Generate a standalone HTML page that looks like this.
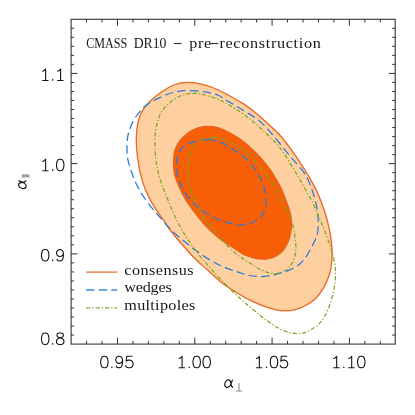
<!DOCTYPE html>
<html><head><meta charset="utf-8"><title>plot</title>
<style>
html,body{margin:0;padding:0;background:#fff;}
body{width:415px;height:415px;overflow:hidden;position:relative;}
svg{position:absolute;left:0;top:0;display:block;}
text{font-family:"Liberation Sans",sans-serif;}
.num{font-family:"Liberation Sans",sans-serif;font-size:16px;fill:#3a3a3a;letter-spacing:0.9px;}
.ser{font-family:"Liberation Serif",serif;font-size:13.6px;fill:#161616;}
</style></head><body>
<svg width="415" height="415" viewBox="0 0 415 415">
<rect x="0" y="0" width="415" height="415" fill="#ffffff"/>
<path d="M187.7,82.4C191.9,82.3 196.0,83.1 200.2,83.9C204.4,84.8 207.9,85.6 212.7,87.5C217.5,89.4 223.7,92.7 229.0,95.5C234.3,98.3 240.2,101.7 244.3,104.4C248.5,107.1 250.7,109.0 253.9,111.5C257.1,114.0 259.4,115.9 263.6,119.7C267.8,123.5 274.4,129.2 279.3,134.5C284.2,139.8 288.6,146.0 292.8,151.8C297.0,157.6 301.4,164.5 304.6,169.5C307.8,174.5 309.5,177.3 311.8,181.6C314.1,185.8 316.4,190.2 318.5,195.0C320.6,199.8 322.6,205.3 324.3,210.5C326.0,215.7 327.5,221.1 328.6,225.9C329.7,230.7 330.5,234.6 331.1,239.4C331.7,244.2 332.2,250.3 332.2,255.0C332.2,259.7 331.6,263.8 331.0,267.6C330.4,271.4 329.6,274.1 328.3,277.6C327.0,281.2 325.2,285.3 323.0,288.9C320.8,292.4 318.2,296.1 315.2,298.9C312.2,301.7 308.5,303.9 305.1,305.7C301.8,307.5 298.4,308.8 295.1,309.7C291.8,310.6 288.4,310.9 285.1,310.9C281.8,310.9 278.9,310.6 275.1,309.7C271.3,308.8 266.7,307.3 262.5,305.7C258.3,304.1 255.0,302.8 250.0,300.2C245.0,297.6 237.7,293.3 232.7,290.2C227.7,287.1 224.4,284.8 220.2,281.4C216.0,278.0 211.8,273.9 207.6,270.1C203.4,266.3 199.3,263.0 195.1,258.8C190.9,254.6 186.8,249.8 182.6,245.0C178.4,240.2 173.1,233.9 170.0,230.0C166.9,226.1 167.0,225.3 164.3,221.3C161.6,217.3 156.9,211.4 153.7,205.9C150.5,200.4 147.4,194.6 145.0,188.5C142.6,182.4 140.9,175.7 139.5,169.3C138.1,162.9 137.3,155.5 136.8,150.2C136.3,144.9 136.2,141.9 136.3,137.7C136.4,133.5 136.7,129.3 137.5,125.1C138.3,120.9 139.2,116.6 141.3,112.6C143.4,108.6 146.6,104.8 150.1,101.3C153.6,97.8 158.4,94.1 162.6,91.3C166.8,88.5 170.9,86.0 175.1,84.5C179.3,83.0 183.5,82.5 187.7,82.4Z" fill="#fed0a0" stroke="#ea6622" stroke-width="1.3"/>
<path d="M205.2,126.4C209.4,126.0 213.6,126.5 217.7,127.6C221.8,128.7 225.8,131.0 229.5,132.8C233.2,134.7 236.3,136.4 239.6,138.7C242.9,141.0 246.1,143.5 249.3,146.4C252.5,149.3 255.5,152.3 258.9,156.0C262.3,159.7 266.6,164.8 269.5,168.7C272.4,172.6 274.2,175.9 276.2,179.3C278.2,182.7 279.9,185.5 281.5,188.9C283.1,192.3 284.4,196.4 285.8,200.0C287.2,203.6 288.6,206.9 289.6,210.5C290.6,214.1 291.5,217.8 291.7,221.6C291.9,225.4 291.3,229.6 290.7,233.1C290.1,236.6 289.1,239.9 287.8,242.8C286.5,245.7 284.9,248.3 283.0,250.5C281.1,252.7 278.6,254.6 276.2,255.9C273.8,257.2 271.1,258.1 268.5,258.6C265.9,259.1 263.4,259.2 260.8,259.1C258.2,259.0 255.7,258.4 253.1,257.8C250.5,257.2 248.0,256.5 245.4,255.3C242.8,254.1 240.3,252.4 237.7,250.8C235.1,249.2 232.6,247.3 230.0,245.6C227.4,243.9 224.7,242.4 222.0,240.5C219.3,238.6 217.0,236.8 214.0,234.1C211.0,231.4 207.3,227.8 204.0,224.1C200.7,220.3 197.1,215.8 194.0,211.6C190.9,207.4 187.7,203.2 185.2,199.0C182.7,194.8 180.7,190.7 178.9,186.5C177.1,182.3 175.4,178.1 174.5,174.0C173.6,169.9 173.4,166.0 173.5,162.0C173.6,158.0 173.7,153.9 175.0,150.0C176.3,146.1 178.4,142.1 181.3,138.8C184.2,135.5 188.6,132.1 192.6,130.0C196.6,127.9 201.0,126.8 205.2,126.4Z" fill="#f65f06" stroke="#e8621f" stroke-width="1.2"/>
<path d="M190.2,90.5C195.2,90.5 200.6,91.2 205.2,92.0C209.8,92.8 213.7,93.4 217.7,95.0C221.7,96.6 224.6,99.2 229.0,101.8C233.4,104.4 238.9,107.6 244.0,110.8C249.1,114.0 254.7,116.8 259.7,121.1C264.7,125.4 269.1,130.7 274.0,136.4C278.9,142.1 284.5,149.6 289.2,155.2C293.9,160.8 298.9,165.6 302.2,170.0C305.5,174.4 307.0,177.4 308.9,181.6C310.8,185.8 312.3,190.5 313.7,195.0C315.1,199.5 316.2,204.0 317.0,208.5C317.8,213.0 318.2,217.5 318.2,222.0C318.2,226.5 318.2,231.2 317.0,235.5C315.8,239.8 313.0,244.2 311.0,248.0C309.0,251.8 307.4,255.2 305.1,258.2C302.8,261.2 300.3,263.8 297.4,265.9C294.5,268.0 291.0,269.4 287.8,270.7C284.6,272.0 281.4,272.7 278.2,273.6C275.0,274.5 271.7,275.4 268.5,275.9C265.3,276.4 262.1,276.6 258.9,276.5C255.7,276.4 252.5,276.1 249.3,275.5C246.1,274.9 243.6,273.9 239.6,272.6C235.6,271.3 230.1,269.7 225.2,267.6C220.3,265.5 215.1,263.0 210.1,260.1C205.1,257.2 199.7,253.3 195.1,250.0C190.5,246.7 186.6,243.3 182.6,240.0C178.6,236.7 174.6,233.3 171.3,230.0C168.0,226.7 165.5,223.7 162.6,220.4C159.7,217.1 156.8,213.9 153.9,210.3C151.0,206.7 147.8,203.0 145.1,199.0C142.4,195.0 139.8,190.7 137.6,186.5C135.4,182.3 133.8,178.4 132.2,174.0C130.6,169.6 128.9,164.6 128.0,160.2C127.1,155.8 127.0,151.9 127.0,147.7C127.0,143.5 127.1,139.4 128.0,135.2C128.9,131.0 130.5,126.6 132.5,122.6C134.5,118.6 137.1,114.6 140.0,111.3C142.9,108.0 146.3,105.1 150.1,102.6C153.9,100.1 158.4,98.1 162.6,96.3C166.8,94.5 170.5,93.0 175.1,92.0C179.7,91.0 185.2,90.5 190.2,90.5Z" fill="none" stroke="#2878e0" stroke-width="1.25" stroke-dasharray="8.4 4.2"/>
<path d="M208.0,139.5C212.2,139.6 216.3,140.7 220.0,142.0C223.7,143.3 226.4,145.3 230.2,147.6C234.0,149.9 238.7,152.7 242.7,156.0C246.7,159.3 250.9,163.6 254.0,167.6C257.1,171.6 259.6,176.0 261.5,180.2C263.4,184.4 264.6,188.6 265.3,192.7C266.1,196.8 266.1,202.1 266.0,205.0C265.9,207.9 265.4,208.2 264.7,210.0C264.0,211.8 263.4,213.9 261.8,215.8C260.2,217.7 257.4,219.8 255.0,221.2C252.6,222.5 249.9,223.3 247.3,223.9C244.7,224.5 242.5,225.1 239.6,225.0C236.7,224.9 233.2,224.0 230.0,223.2C226.8,222.4 223.8,221.8 220.1,220.3C216.4,218.8 211.3,216.3 207.6,214.0C203.8,211.7 200.9,209.4 197.6,206.5C194.3,203.6 190.3,200.0 187.6,196.4C184.9,192.8 183.1,189.2 181.3,185.2C179.5,181.2 177.8,176.3 177.0,172.6C176.2,168.8 176.2,166.0 176.5,162.7C176.8,159.4 177.4,155.4 178.8,152.6C180.2,149.8 182.4,147.5 185.1,145.6C187.8,143.7 191.3,142.3 195.1,141.3C198.9,140.3 203.8,139.4 208.0,139.5Z" fill="none" stroke="#2878e0" stroke-width="1.25" stroke-dasharray="8.4 4.2"/>
<path d="M192.7,93.3C196.9,93.1 201.0,94.0 205.2,95.0C209.4,96.0 213.7,97.6 217.7,99.2C221.7,100.8 224.6,102.2 229.0,104.8C233.4,107.3 238.8,110.7 244.0,114.5C249.2,118.3 254.1,122.3 260.0,127.7C265.9,133.1 273.8,140.2 279.3,147.0C284.8,153.8 289.0,161.8 293.0,168.2C297.0,174.6 300.0,180.0 303.1,185.4C306.2,190.8 309.2,195.7 311.8,200.8C314.4,205.9 316.4,211.4 318.5,216.2C320.6,221.0 322.5,225.2 324.3,229.7C326.1,234.2 327.7,239.0 329.1,243.2C330.6,247.4 332.0,250.9 333.0,255.0C334.0,259.1 334.8,263.4 335.2,267.6C335.6,271.8 335.6,275.5 335.2,280.1C334.8,284.7 333.9,290.1 332.7,295.1C331.4,300.1 329.8,305.6 327.7,310.2C325.6,314.8 323.1,319.4 320.2,322.7C317.3,326.0 313.5,328.4 310.2,330.2C306.9,332.0 303.5,333.1 300.1,333.5C296.8,333.9 293.4,333.4 290.1,332.7C286.8,331.9 283.5,330.7 280.1,329.0C276.8,327.3 273.4,325.0 270.0,322.7C266.6,320.4 264.1,318.5 260.0,315.2C255.9,311.9 249.8,306.9 245.2,303.0C240.6,299.1 236.9,295.5 232.7,291.5C228.5,287.5 224.0,282.9 220.2,279.0C216.4,275.1 213.4,271.6 210.1,267.8C206.8,264.0 203.4,260.5 200.1,256.3C196.8,252.1 193.0,246.9 190.0,242.5C187.0,238.1 184.7,234.7 182.0,230.0C179.3,225.3 176.3,219.3 173.9,214.1C171.5,208.9 169.5,203.6 167.6,199.0C165.7,194.4 164.0,190.5 162.6,186.5C161.2,182.5 159.9,179.0 158.9,175.0C157.9,171.0 156.9,166.8 156.3,162.7C155.7,158.6 155.3,154.8 155.1,150.2C154.9,145.6 154.7,140.0 155.1,135.2C155.5,130.4 156.3,125.6 157.6,121.4C158.8,117.2 160.4,113.3 162.6,110.1C164.8,106.9 167.6,104.6 170.5,102.3C173.4,100.0 176.4,97.5 180.1,96.0C183.8,94.5 188.5,93.5 192.7,93.3Z" fill="none" stroke="#7aa826" stroke-width="1.25" stroke-dasharray="4.2 2 1.3 2"/>
<path d="M212.7,137.7C215.2,137.6 216.9,137.4 220.2,138.4C223.5,139.4 228.5,141.7 232.7,143.8C236.9,146.0 241.2,148.1 245.2,151.3C249.1,154.5 253.2,159.5 256.4,163.0C259.6,166.5 262.1,169.3 264.6,172.5C267.1,175.7 269.3,179.0 271.4,182.2C273.5,185.4 275.5,188.8 277.2,191.8C278.9,194.8 280.1,197.2 281.5,200.0C282.9,202.8 284.2,205.2 285.8,208.5C287.4,211.8 289.8,216.2 291.2,220.1C292.6,224.0 293.4,227.8 294.2,231.7C294.9,235.5 295.4,240.0 295.7,243.2C295.9,246.4 296.0,248.2 295.7,251.0C295.4,253.8 294.8,257.3 293.6,260.1C292.5,262.9 290.7,265.8 288.8,267.8C286.9,269.8 284.4,271.0 282.0,272.0C279.6,273.0 276.9,273.6 274.3,273.6C271.7,273.6 269.2,272.8 266.6,272.0C264.0,271.2 261.5,270.2 258.9,268.8C256.3,267.4 253.8,265.5 251.2,263.9C248.6,262.3 246.1,260.9 243.5,259.1C240.9,257.4 238.6,255.8 235.8,253.4C233.0,251.0 229.5,247.9 226.5,244.8C223.5,241.7 220.6,238.5 217.6,235.0C214.6,231.5 211.0,227.1 208.5,224.0C206.0,220.9 204.4,219.4 202.6,216.5C200.8,213.6 199.3,210.1 197.6,206.5C195.9,202.9 194.0,199.2 192.6,195.2C191.2,191.2 190.1,186.9 189.3,182.7C188.5,178.5 188.1,173.9 188.0,170.1C187.9,166.3 188.0,163.4 188.6,160.1C189.2,156.8 189.8,153.1 191.3,150.1C192.8,147.1 195.3,143.9 197.6,142.0C199.9,140.1 202.7,139.6 205.2,138.9C207.7,138.2 210.2,137.8 212.7,137.7Z" fill="none" stroke="#7aa826" stroke-width="1.25" stroke-dasharray="4.2 2 1.3 2"/>
<rect x="71.1" y="19.3" width="324.1" height="324.8" fill="none" stroke="#333" stroke-width="1.1"/>
<path d="M86.56,344.10v-3.2M86.56,19.30v3.2M102.02,344.10v-3.2M102.02,19.30v3.2M117.48,344.10v-6.5M117.48,19.30v6.5M132.94,344.10v-3.2M132.94,19.30v3.2M148.40,344.10v-3.2M148.40,19.30v3.2M163.86,344.10v-3.2M163.86,19.30v3.2M179.32,344.10v-3.2M179.32,19.30v3.2M194.78,344.10v-6.5M194.78,19.30v6.5M210.24,344.10v-3.2M210.24,19.30v3.2M225.70,344.10v-3.2M225.70,19.30v3.2M241.16,344.10v-3.2M241.16,19.30v3.2M256.62,344.10v-3.2M256.62,19.30v3.2M272.08,344.10v-6.5M272.08,19.30v6.5M287.54,344.10v-3.2M287.54,19.30v3.2M303.00,344.10v-3.2M303.00,19.30v3.2M318.46,344.10v-3.2M318.46,19.30v3.2M333.92,344.10v-3.2M333.92,19.30v3.2M349.38,344.10v-6.5M349.38,19.30v6.5M364.84,344.10v-3.2M364.84,19.30v3.2M380.30,344.10v-3.2M380.30,19.30v3.2M71.10,335.08h3.0M395.20,335.08h-3.0M71.10,326.05h3.0M395.20,326.05h-3.0M71.10,317.03h3.0M395.20,317.03h-3.0M71.10,308.01h3.0M395.20,308.01h-3.0M71.10,298.99h3.0M395.20,298.99h-3.0M71.10,289.96h3.0M395.20,289.96h-3.0M71.10,280.94h3.0M395.20,280.94h-3.0M71.10,271.92h3.0M395.20,271.92h-3.0M71.10,262.89h3.0M395.20,262.89h-3.0M71.10,253.87h6.3M395.20,253.87h-6.3M71.10,244.85h3.0M395.20,244.85h-3.0M71.10,235.82h3.0M395.20,235.82h-3.0M71.10,226.80h3.0M395.20,226.80h-3.0M71.10,217.78h3.0M395.20,217.78h-3.0M71.10,208.75h3.0M395.20,208.75h-3.0M71.10,199.73h3.0M395.20,199.73h-3.0M71.10,190.71h3.0M395.20,190.71h-3.0M71.10,181.69h3.0M395.20,181.69h-3.0M71.10,172.66h3.0M395.20,172.66h-3.0M71.10,163.64h6.3M395.20,163.64h-6.3M71.10,154.62h3.0M395.20,154.62h-3.0M71.10,145.59h3.0M395.20,145.59h-3.0M71.10,136.57h3.0M395.20,136.57h-3.0M71.10,127.55h3.0M395.20,127.55h-3.0M71.10,118.53h3.0M395.20,118.53h-3.0M71.10,109.50h3.0M395.20,109.50h-3.0M71.10,100.48h3.0M395.20,100.48h-3.0M71.10,91.46h3.0M395.20,91.46h-3.0M71.10,82.43h3.0M395.20,82.43h-3.0M71.10,73.41h6.3M395.20,73.41h-6.3M71.10,64.39h3.0M395.20,64.39h-3.0M71.10,55.36h3.0M395.20,55.36h-3.0M71.10,46.34h3.0M395.20,46.34h-3.0M71.10,37.32h3.0M395.20,37.32h-3.0M71.10,28.29h3.0M395.20,28.29h-3.0" fill="none" stroke="#333" stroke-width="1"/>
<!-- legend -->
<path d="M86.1,272.1H117.2" stroke="#e8703a" stroke-width="1.3"/>
<path d="M86.1,290H117.2" stroke="#4088e0" stroke-width="1.3" stroke-dasharray="8.4 4.2"/>
<path d="M86.1,307.9H117.2" stroke="#7daa30" stroke-width="1.3" stroke-dasharray="4.2 2 1.3 2"/>
<g style="filter:grayscale(1)">
<text class="ser" transform="translate(124.3,274.6) scale(1.19,1)" textLength="58.3" lengthAdjust="spacing">consensus</text>
<text class="ser" transform="translate(124.3,292.2) scale(1.19,1)" textLength="39.9" lengthAdjust="spacing">wedges</text>
<text class="ser" transform="translate(124.3,310.2) scale(1.19,1)" textLength="59.6" lengthAdjust="spacing">multipoles</text>
<!-- title -->
<text class="ser" x="86.3" y="47.9" textLength="41" lengthAdjust="spacingAndGlyphs">CMASS</text>
<text class="ser" x="133.7" y="47.9" textLength="32.8" lengthAdjust="spacingAndGlyphs">DR10</text>
<path d="M174,43.6H181.6" stroke="#222" stroke-width="1"/>
<text class="ser" transform="translate(189.3,47.9) scale(1.19,1)" textLength="18.3" lengthAdjust="spacing">pre</text>
<path d="M210.6,43.6H218.4" stroke="#222" stroke-width="1"/>
<text class="ser" transform="translate(219.4,47.9) scale(1.19,1)" textLength="85.2" lengthAdjust="spacing">reconstruction</text>
<path d="M103.85,356.30L102.26,356.85L101.20,358.49L100.67,361.23L100.67,362.87L101.20,365.61L102.26,367.25L103.85,367.80L104.91,367.80L106.50,367.25L107.56,365.61L108.09,362.87L108.09,361.23L107.56,358.49L106.50,356.85L104.91,356.30L103.85,356.30M122.56,360.13L122.03,361.78L120.97,362.87L119.38,363.42L118.85,363.42L117.26,362.87L116.20,361.78L115.67,360.13L115.67,359.59L116.20,357.94L117.26,356.85L118.85,356.30L119.38,356.30L120.97,356.85L122.03,357.94L122.56,360.13L122.56,362.87L122.03,365.61L120.97,367.25L119.38,367.80L118.32,367.80L116.73,367.25L116.20,366.16M132.03,356.30L126.73,356.30L126.20,361.23L126.73,360.68L128.32,360.13L129.91,360.13L131.50,360.68L132.56,361.78L133.09,363.42L133.09,364.51L132.56,366.16L131.50,367.25L129.91,367.80L128.32,367.80L126.73,367.25L126.20,366.70L125.67,365.61M179.18,358.50L180.58,357.90L182.08,356.30V367.80M179.08,367.80H184.58M196.15,356.30L194.56,356.85L193.50,358.49L192.97,361.23L192.97,362.87L193.50,365.61L194.56,367.25L196.15,367.80L197.21,367.80L198.80,367.25L199.86,365.61L200.39,362.87L200.39,361.23L199.86,358.49L198.80,356.85L197.21,356.30L196.15,356.30M206.15,356.30L204.56,356.85L203.50,358.49L202.97,361.23L202.97,362.87L203.50,365.61L204.56,367.25L206.15,367.80L207.21,367.80L208.80,367.25L209.86,365.61L210.39,362.87L210.39,361.23L209.86,358.49L208.80,356.85L207.21,356.30L206.15,356.30M256.48,358.50L257.88,357.90L259.38,356.30V367.80M256.38,367.80H261.88M273.45,356.30L271.86,356.85L270.80,358.49L270.27,361.23L270.27,362.87L270.80,365.61L271.86,367.25L273.45,367.80L274.51,367.80L276.10,367.25L277.16,365.61L277.69,362.87L277.69,361.23L277.16,358.49L276.10,356.85L274.51,356.30L273.45,356.30M286.63,356.30L281.33,356.30L280.80,361.23L281.33,360.68L282.92,360.13L284.51,360.13L286.10,360.68L287.16,361.78L287.69,363.42L287.69,364.51L287.16,366.16L286.10,367.25L284.51,367.80L282.92,367.80L281.33,367.25L280.80,366.70L280.27,365.61M333.78,358.50L335.18,357.90L336.68,356.30V367.80M333.68,367.80H339.18M348.78,358.50L350.18,357.90L351.68,356.30V367.80M348.68,367.80H354.18M360.75,356.30L359.16,356.85L358.10,358.49L357.57,361.23L357.57,362.87L358.10,365.61L359.16,367.25L360.75,367.80L361.81,367.80L363.40,367.25L364.46,365.61L364.99,362.87L364.99,361.23L364.46,358.49L363.40,356.85L361.81,356.30L360.75,356.30M42.70,71.21L44.10,70.61L45.60,69.01V80.51M42.60,80.51H48.10M57.70,71.21L59.10,70.61L60.60,69.01V80.51M57.60,80.51H63.10M42.70,161.44L44.10,160.84L45.60,159.24V170.74M42.60,170.74H48.10M59.67,159.24L58.08,159.79L57.02,161.43L56.49,164.17L56.49,165.81L57.02,168.55L58.08,170.19L59.67,170.74L60.73,170.74L62.32,170.19L63.38,168.55L63.91,165.81L63.91,164.17L63.38,161.43L62.32,159.79L60.73,159.24L59.67,159.24M44.67,249.47L43.08,250.02L42.02,251.66L41.49,254.40L41.49,256.04L42.02,258.78L43.08,260.42L44.67,260.97L45.73,260.97L47.32,260.42L48.38,258.78L48.91,256.04L48.91,254.40L48.38,251.66L47.32,250.02L45.73,249.47L44.67,249.47M63.38,253.30L62.85,254.95L61.79,256.04L60.20,256.59L59.67,256.59L58.08,256.04L57.02,254.95L56.49,253.30L56.49,252.76L57.02,251.11L58.08,250.02L59.67,249.47L60.20,249.47L61.79,250.02L62.85,251.11L63.38,253.30L63.38,256.04L62.85,258.78L61.79,260.42L60.20,260.97L59.14,260.97L57.55,260.42L57.02,259.33M44.67,333.00L43.08,333.55L42.02,335.19L41.49,337.93L41.49,339.57L42.02,342.31L43.08,343.95L44.67,344.50L45.73,344.50L47.32,343.95L48.38,342.31L48.91,339.57L48.91,337.93L48.38,335.19L47.32,333.55L45.73,333.00L44.67,333.00M59.14,333.00L57.55,333.55L57.02,334.64L57.02,335.74L57.55,336.83L58.61,337.38L60.73,337.93L62.32,338.48L63.38,339.57L63.91,340.67L63.91,342.31L63.38,343.40L62.85,343.95L61.26,344.50L59.14,344.50L57.55,343.95L57.02,343.40L56.49,342.31L56.49,340.67L57.02,339.57L58.08,338.48L59.67,337.93L61.79,337.38L62.85,336.83L63.38,335.74L63.38,334.64L62.85,333.55L61.26,333.00L59.14,333.00" fill="none" stroke="#141414" stroke-width="1.1" stroke-linejoin="round" stroke-linecap="round"/>
<path d="M111.88,367.20h0.01M189.18,367.20h0.01M266.48,367.20h0.01M343.78,367.20h0.01M52.70,79.91h0.01M52.70,170.14h0.01M52.70,260.37h0.01M52.70,343.90h0.01" fill="none" stroke="#1c1c1c" stroke-width="1.6" stroke-linecap="round"/>
<!-- axis labels -->
<path transform="translate(224.4,379.6) scale(0.9)" d="M8.9,0.5C8.2,2.6 7.5,5.1 6.2,6.9C5,8.4 3.6,8.9 2.4,8.6C0.7,8.2 0.1,6.4 0.5,4.6C1,2.4 2.6,0.3 4.6,0.2C6.3,0.2 6.9,2 7.2,4.2C7.5,6.4 8,8.2 9.3,8.4" fill="none" stroke="#111" stroke-width="1.25" stroke-linecap="round"/>
<path d="M236.1,391H242.2M239,383.1V391" stroke="#8a8a8a" stroke-width="1.1" fill="none"/>
<path transform="translate(18.4,188.9) rotate(-90) scale(0.9)" d="M8.9,0.5C8.2,2.6 7.5,5.1 6.2,6.9C5,8.4 3.6,8.9 2.4,8.6C0.7,8.2 0.1,6.4 0.5,4.6C1,2.4 2.6,0.3 4.6,0.2C6.3,0.2 6.9,2 7.2,4.2C7.5,6.4 8,8.2 9.3,8.4" fill="none" stroke="#111" stroke-width="1.25" stroke-linecap="round"/>
<rect x="21.7" y="174.3" width="7.8" height="3.2" fill="#a0a0a0"/>
</g>
</svg>
</body></html>
